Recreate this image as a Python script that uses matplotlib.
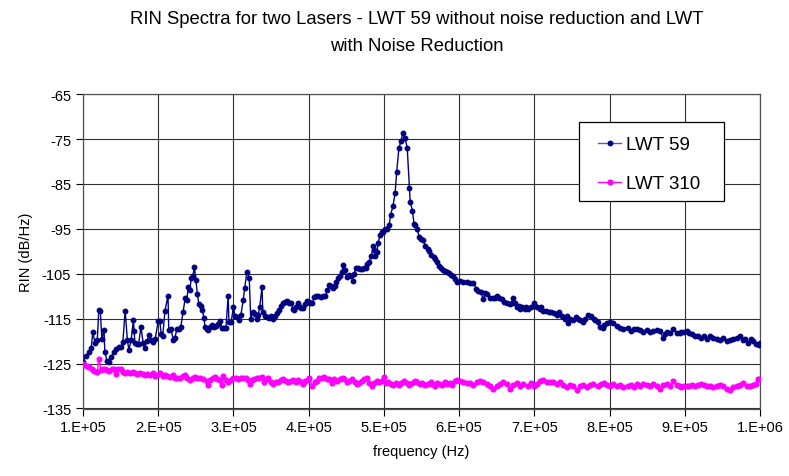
import matplotlib
matplotlib.use("Agg")
import matplotlib.pyplot as plt
from matplotlib.patches import Rectangle
import numpy as np

plt.rcParams['font.family'] = ['Liberation Sans', 'DejaVu Sans']
plt.rcParams['axes.unicode_minus'] = False

# LWT 59 (kHz, dB/Hz)
lwt59_khz = [
    100, 104, 108, 111, 113, 116, 119, 121, 123, 125, 128, 129, 132, 135, 137, 141,
    144, 148, 151, 153, 156, 159, 161, 164, 167, 168, 169, 172, 174, 177, 180, 182,
    185, 188, 190, 193, 196, 200, 202, 204, 206, 209, 213, 214, 217, 220, 222, 225,
    228, 230, 233, 236, 238, 240, 242, 244, 246, 248, 250, 252, 254, 257, 258, 261,
    262, 265, 266, 269, 272, 274, 277, 280, 282, 285, 288, 290, 293, 294, 297, 300,
    302, 305, 307, 310, 313, 315, 318, 321, 323, 326, 329, 331, 333, 335, 338, 339,
    342, 345, 347, 350, 353, 355, 358, 361, 363, 366, 369, 371, 374, 377, 379, 381,
    383, 386, 387, 390, 393, 395, 398, 401, 402, 405, 407, 410, 413, 417, 419, 422,
    425, 427, 430, 433, 435, 436, 439, 442, 444, 446, 448, 451, 454, 456, 459, 460,
    463, 466, 468, 471, 474, 476, 478, 480, 483, 486, 487, 488, 491, 492, 495, 498,
    499, 502, 504, 507, 509, 512, 515, 517, 520, 523, 525, 528, 531, 534, 535, 538,
    540, 542, 544, 547, 550, 552, 555, 558, 560, 563, 566, 568, 571, 573, 576, 579,
    581, 584, 587, 589, 592, 595, 597, 601, 605, 611, 615, 619, 623, 625, 629, 632,
    635, 637, 641, 645, 648, 651, 653, 657, 660, 664, 667, 670, 671, 674, 677, 679,
    681, 684, 687, 689, 692, 696, 699, 701, 704, 707, 709, 712, 716, 720, 722, 726,
    730, 733, 737, 741, 744, 745, 748, 752, 755, 758, 761, 765, 768, 771, 775, 779,
    781, 784, 787, 791, 793, 797, 800, 805, 810, 814, 818, 824, 828, 832, 837, 841,
    845, 850, 854, 858, 863, 867, 871, 874, 877, 881, 885, 889, 893, 895, 899, 903,
    906, 910, 914, 917, 921, 925, 930, 934, 938, 943, 947, 951, 956, 960, 964, 970,
    974, 978, 980, 984, 988, 991, 995, 999, 1000,
]
lwt59_rin = [
    -124.6, -123.3, -122.4, -121.5, -118.0, -120.4, -119.7, -113.0, -113.2, -119.5, -117.5, -122.4, -124.5, -124.7, -123.6, -122.4,
    -121.8, -121.3, -121.3, -120.2, -113.2, -119.7, -122.0, -119.7, -115.3, -117.7, -120.4, -120.6, -120.6, -116.8, -120.4, -121.5,
    -120.0, -118.6, -119.7, -120.2, -119.5, -115.5, -115.5, -118.4, -118.8, -113.2, -109.9, -117.5, -117.3, -119.7, -119.3, -117.3,
    -117.3, -116.8, -113.5, -110.3, -110.8, -107.9, -108.5, -106.0, -105.6, -103.5, -106.3, -109.4, -111.7, -112.1, -113.0, -114.8,
    -116.8, -117.3, -117.5, -116.8, -116.4, -116.8, -116.6, -116.2, -115.5, -117.1, -117.1, -117.1, -109.9, -115.7, -115.7, -112.3,
    -114.4, -114.6, -115.3, -114.1, -110.8, -108.1, -104.5, -106.0, -115.0, -113.5, -113.9, -115.0, -114.1, -112.3, -107.9, -113.5,
    -114.4, -114.6, -114.8, -114.4, -115.0, -114.4, -113.7, -113.0, -112.1, -111.4, -111.2, -111.0, -111.4, -111.4, -112.8, -113.0,
    -112.3, -111.4, -112.1, -112.6, -112.6, -111.7, -111.0, -111.2, -111.6, -111.6, -110.2, -110.0, -110.0, -110.2, -110.0, -110.0,
    -108.7, -107.6, -107.8, -108.2, -107.8, -106.9, -106.0, -105.6, -104.7, -103.1, -104.2, -105.8, -105.3, -105.5, -106.5, -105.1,
    -103.8, -103.6, -104.0, -104.0, -103.8, -103.6, -102.9, -102.4, -101.1, -98.9, -99.8, -101.1, -100.2, -98.2, -96.4, -95.7,
    -95.7, -95.0, -95.0, -94.1, -91.8, -90.0, -86.9, -82.3, -76.9, -75.4, -73.7, -74.7, -76.9, -86.0, -89.0, -91.0,
    -93.8, -94.2, -95.0, -96.7, -97.2, -97.5, -98.7, -99.4, -99.9, -100.9, -101.2, -101.6, -102.4, -103.3, -103.8, -104.2,
    -104.4, -104.7, -104.9, -105.3, -105.5, -106.2, -106.8, -106.6, -106.8, -106.8, -107.0, -107.1, -108.3, -108.8, -109.0, -110.7,
    -109.2, -109.6, -110.3, -110.3, -110.5, -109.9, -110.5, -110.7, -111.3, -111.4, -111.8, -111.4, -110.5, -111.6, -112.5, -112.2,
    -112.9, -112.5, -112.9, -112.3, -112.8, -112.5, -111.6, -112.2, -112.3, -112.9, -112.5, -113.3, -113.3, -113.6, -113.5, -113.8,
    -114.2, -113.5, -114.4, -115.1, -114.4, -116.0, -115.1, -115.3, -114.7, -115.1, -115.3, -115.7, -115.1, -114.2, -114.4, -115.1,
    -115.3, -115.8, -116.8, -117.0, -116.5, -115.9, -115.7, -115.9, -116.6, -117.0, -117.2, -117.0, -117.7, -117.2, -117.2, -117.5,
    -118.0, -117.5, -118.0, -117.7, -117.5, -117.7, -119.2, -118.4, -118.0, -118.2, -117.2, -118.1, -118.2, -118.0, -118.0, -117.7,
    -118.2, -118.4, -118.8, -118.9, -119.2, -118.8, -119.6, -118.9, -119.4, -119.6, -119.7, -119.4, -120.0, -119.7, -119.6, -119.4,
    -118.9, -119.7, -119.6, -120.5, -119.6, -120.0, -120.7, -120.9, -120.5,
]

# LWT 310 (kHz, dB/Hz)
lwt310_khz = [
    100, 101, 105, 108, 112, 115, 119, 121, 124, 127, 129, 132, 135, 139, 141, 144,
    147, 151, 153, 156, 159, 163, 167, 169, 172, 176, 180, 182, 185, 189, 193, 196,
    198, 202, 206, 209, 212, 216, 220, 222, 225, 229, 233, 236, 238, 242, 246, 249,
    252, 256, 260, 265, 266, 269, 273, 276, 278, 282, 285, 286, 290, 293, 297, 300,
    303, 306, 310, 313, 317, 319, 322, 325, 327, 331, 334, 338, 341, 345, 346, 350,
    353, 357, 359, 363, 366, 370, 373, 377, 379, 383, 386, 390, 393, 395, 399, 401,
    405, 408, 411, 414, 418, 421, 425, 427, 431, 434, 438, 441, 445, 447, 451, 454,
    458, 461, 464, 467, 471, 474, 478, 480, 484, 487, 491, 494, 498, 500, 503, 506,
    510, 512, 516, 520, 523, 527, 531, 534, 538, 542, 544, 548, 551, 555, 558, 562,
    564, 568, 571, 575, 577, 581, 584, 588, 591, 595, 597, 601, 605, 611, 615, 619,
    624, 628, 632, 637, 641, 645, 651, 655, 659, 664, 668, 672, 677, 681, 685, 691,
    695, 699, 704, 708, 712, 717, 721, 725, 730, 734, 738, 744, 748, 752, 757, 761,
    765, 770, 774, 778, 784, 788, 792, 797, 801, 805, 810, 814, 818, 824, 828, 832,
    837, 841, 845, 850, 854, 858, 863, 867, 871, 877, 881, 885, 889, 893, 895, 899,
    903, 906, 910, 914, 917, 921, 925, 930, 934, 938, 943, 947, 951, 956, 960, 964,
    970, 974, 978, 983, 987, 991, 995, 998, 1000,
]
lwt310_rin = [
    -125.1, -125.4, -125.5, -125.8, -126.3, -126.6, -126.9, -123.9, -126.4, -126.3, -126.1, -126.4, -126.6, -126.3, -126.1, -127.4,
    -126.1, -126.3, -126.9, -127.0, -126.9, -127.2, -126.9, -127.2, -127.4, -127.2, -127.4, -127.6, -127.4, -127.6, -127.2, -127.8,
    -127.6, -127.2, -127.8, -127.6, -127.8, -127.9, -127.6, -128.1, -128.3, -128.1, -127.8, -127.6, -128.3, -128.7, -128.3, -127.9,
    -128.1, -128.3, -128.5, -128.8, -129.8, -128.7, -128.1, -127.9, -128.5, -128.7, -129.8, -127.8, -128.7, -129.1, -128.7, -128.3,
    -128.1, -128.5, -128.1, -128.3, -128.3, -128.7, -129.6, -128.7, -128.5, -128.3, -128.1, -127.9, -129.1, -128.5, -128.1, -129.2,
    -129.6, -129.2, -129.1, -128.7, -128.5, -128.9, -129.1, -128.9, -128.7, -129.2, -128.7, -129.1, -129.6, -128.9, -128.7, -128.3,
    -130.0, -129.2, -128.9, -128.3, -128.3, -127.9, -128.5, -128.5, -129.4, -128.5, -128.9, -128.5, -128.1, -128.5, -129.2, -128.9,
    -128.5, -129.1, -129.6, -129.4, -128.9, -128.5, -128.3, -129.4, -130.0, -129.4, -128.9, -129.1, -128.9, -128.0, -129.4, -129.2,
    -129.6, -129.8, -129.4, -129.8, -129.4, -128.9, -129.4, -129.8, -129.4, -128.9, -129.2, -129.6, -129.4, -129.8, -129.6, -129.2,
    -129.6, -129.9, -129.4, -129.6, -129.8, -129.2, -129.6, -129.4, -129.8, -128.9, -128.6, -128.9, -129.1, -129.4, -129.4, -129.8,
    -129.2, -128.9, -129.1, -129.6, -130.0, -130.6, -130.0, -129.6, -129.2, -129.6, -130.6, -129.8, -129.4, -130.0, -129.6, -130.0,
    -129.4, -130.0, -129.6, -128.9, -128.7, -129.1, -129.2, -129.2, -129.6, -129.1, -129.8, -130.3, -129.8, -130.0, -130.9, -130.0,
    -129.8, -130.3, -129.8, -129.6, -130.0, -129.6, -129.4, -129.8, -130.0, -129.6, -130.1, -129.8, -130.3, -130.0, -129.8, -130.3,
    -129.6, -130.0, -129.6, -129.8, -130.1, -129.6, -130.0, -130.7, -129.8, -129.6, -130.0, -128.9, -129.8, -130.1, -130.3, -130.1,
    -130.0, -130.1, -129.8, -130.1, -129.8, -129.6, -129.8, -130.1, -130.0, -130.3, -130.0, -129.8, -130.1, -130.6, -130.9, -130.3,
    -130.0, -129.8, -129.4, -130.0, -130.1, -129.8, -129.6, -128.4, -128.5,
]

x_ticks = [1e5, 2e5, 3e5, 4e5, 5e5, 6e5, 7e5, 8e5, 9e5, 1e6]
x_tick_labels = ["1.E+05", "2.E+05", "3.E+05", "4.E+05", "5.E+05",
                 "6.E+05", "7.E+05", "8.E+05", "9.E+05", "1.E+06"]
y_ticks = [-135, -125, -115, -105, -95, -85, -75, -65]

fig = plt.figure(figsize=(7.89, 4.77), dpi=100)
ax = fig.add_axes([83 / 789, 1 - 409.5 / 477, 677 / 789, 314.3 / 477])

f59 = np.array(lwt59_khz) * 1000
f310 = np.array(lwt310_khz) * 1000

ax.plot(f59, lwt59_rin, color="#000080", lw=1.0, marker="o", ms=3.2,
        label="LWT 59", zorder=3)
ax.plot(f310, lwt310_rin, color="#ff00ff", lw=1.0, marker="o", ms=3.4,
        label="LWT 310", zorder=3)

ax.set_xlim(1e5, 1e6)
ax.set_ylim(-135, -65)
ax.set_xticks(x_ticks)
ax.set_xticklabels(x_tick_labels)
ax.set_yticks(y_ticks)
ax.tick_params(axis="both", labelsize=10.5, length=5, width=0.8, direction="out",
               colors="black")
ax.grid(True, color="#303030", lw=0.8)
ax.set_axisbelow(True)
for sp in ax.spines.values():
    sp.set_color("#505050")
    sp.set_linewidth(0.9)

ax.set_xlabel("frequency (Hz)", fontsize=10.5, labelpad=7)
ax.set_ylabel("RIN (dB/Hz)", fontsize=10.5, labelpad=6)

fig.text(417 / 789, 1 - 33 / 477,
         "RIN Spectra for two Lasers - LWT 59 without noise reduction and LWT\nwith Noise Reduction",
         ha="center", va="center", fontsize=13.3, linespacing=1.7)

# legend box drawn separately, entries placed inside it
ax.add_patch(Rectangle((0.733, 0.660), 0.2145, 0.2515, transform=ax.transAxes,
                       facecolor="white", edgecolor="black", lw=0.9, zorder=4))
leg = ax.legend(loc="upper left", bbox_to_anchor=(0.7607, 0.866), fontsize=13.5,
                frameon=False, handlelength=1.25, handletextpad=0.25,
                labelspacing=1.15, borderpad=0, borderaxespad=0)
leg.set_zorder(5)
leg.get_lines()[0].set_color("#5a5aaa")
leg.get_lines()[0].set_markerfacecolor("#000080")
leg.get_lines()[0].set_markeredgecolor("#000080")

fig.savefig("out.png", dpi=100)
